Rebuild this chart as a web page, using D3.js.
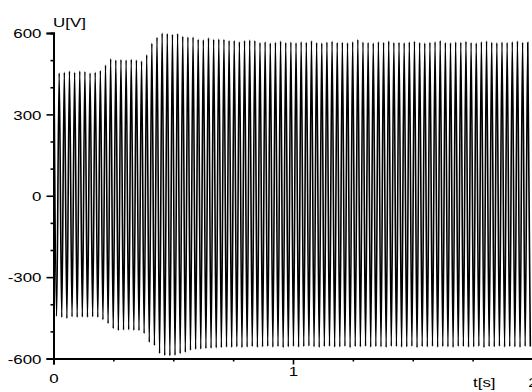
<!DOCTYPE html>
<html>
<head>
<meta charset="utf-8">
<script src="https://cdn.jsdelivr.net/npm/d3@7"></script>
<style>
  html, body { margin: 0; padding: 0; background: #fff; }
  svg { display: block; }
  text { font-family: "Liberation Sans", Arial, sans-serif; fill: #000; }
</style>
</head>
<body>
<svg id="chart" width="532" height="392"></svg>
<script>
// Generator terminal voltage: one positive and one negative peak per cycle (V)
const cyclePeriod = 0.0215; // s

const positivePeaks = [
  460, 452, 455, 460, 455, 460, 458, 452, 455, 462,
  482, 505, 500, 502, 500, 503, 500, 497,
  520, 562, 584, 600, 598, 595, 598, 588, 585, 585, 577, 575,
  582, 577, 578, 577, 572, 572, 568, 572, 574, 572,
  565, 568, 563, 566, 570, 565, 567, 564, 568, 566,
  571, 565, 563, 567, 569, 565, 566, 564, 568, 576,
  567, 565, 563, 568, 566, 570, 565, 566, 564, 567,
  569, 565, 563, 566, 568, 572, 565, 564, 567, 566,
  569, 565, 563, 568, 570, 566, 564, 567, 565, 568,
  570, 566, 565
];

const negativePeaks = [
  -445, -448, -452, -446, -448, -447, -448, -446, -448, -457,
  -471, -490, -497, -495, -494, -496, -497, -508,
  -540, -552, -582, -589, -590, -588, -582, -577, -570, -566, -565, -563,
  -562, -561, -560, -558, -559, -557, -560, -558, -556, -559,
  -557, -555, -558, -556, -560, -557, -555, -558, -556, -554,
  -557, -559, -556, -555, -558, -557, -555, -560, -556, -557,
  -555, -558, -556, -557, -559, -555, -556, -558, -557, -555,
  -560, -556, -557, -555, -558, -556, -557, -559, -555, -556,
  -558, -557, -555, -560, -556, -557, -555, -558, -556, -557,
  -559, -555, -556
];

const xTicks = [0, 1, 2];
const xMinorTicks = [0.25, 0.5, 0.75, 1.25, 1.5, 1.75];
const yTicks = [-600, -300, 0, 300, 600];
const yMinorTicks = [-500, -400, -200, -100, 100, 200, 400, 500];

const xLabel = "t[s]";
const yLabel = "U[V]";

// ---- layout ----
const svg = d3.select("#chart");
const plotLeft = 53.5, plotRight = 532, plotTop = 33, plotBottom = 358.5;

const x = d3.scaleLinear().domain([0, 2]).range([plotLeft, 532.5]);
const y = d3.scaleLinear().domain([-600, 600]).range([plotBottom, plotTop]);

// waveform points: peaks alternate within each cycle
const points = [];
positivePeaks.forEach((p, k) => {
  points.push({ t: (k + 0.1) * cyclePeriod, v: p });
  points.push({ t: (k + 0.6) * cyclePeriod, v: negativePeaks[k] });
});

svg.append("clipPath").attr("id", "plotClip")
  .append("rect").attr("x", plotLeft).attr("y", 0)
  .attr("width", plotRight - plotLeft).attr("height", 392);

const line = d3.line()
  .x(d => x(d.t))
  .y(d => y(d.v))
  .curve(d3.curveMonotoneX);

svg.append("path")
  .datum(points)
  .attr("clip-path", "url(#plotClip)")
  .attr("fill", "none")
  .attr("stroke", "#000")
  .attr("stroke-width", 1.6)
  .attr("d", line);

// ---- axes ----
const textScale = "scale(1.3,1)";
const plainNumber = d => String(d); // ASCII hyphen for negatives

// y axis
const yAxis = svg.append("g").attr("transform", `translate(${plotLeft},0)`);
yAxis.call(d3.axisLeft(y).tickValues(yMinorTicks).tickSize(3).tickFormat(""));
yAxis.append("g").call(d3.axisLeft(y).tickValues(yTicks).tickSize(7).tickFormat(plainNumber));
yAxis.selectAll(".domain").attr("stroke-width", 2);
yAxis.selectAll(".tick line").attr("stroke-width", 1.6);
yAxis.selectAll("text")
  .attr("font-size", 13)
  .attr("x", null)
  .attr("transform", `translate(-12,0) ${textScale}`)
  .attr("dy", "0.36em");

// x axis
const xAxisG = svg.append("g").attr("transform", `translate(0,${plotBottom})`);
xAxisG.call(d3.axisBottom(x).tickValues(xMinorTicks).tickSize(3).tickFormat(""));
xAxisG.append("g").call(d3.axisBottom(x).tickValues(xTicks).tickSize(6).tickFormat(plainNumber));
xAxisG.selectAll(".domain").attr("stroke-width", 2);
xAxisG.selectAll(".tick line").attr("stroke-width", 1.6);
const xLabelBase = { 0: 24.5, 1: 17.5, 2: 28 };
xAxisG.selectAll("text")
  .attr("font-size", 13)
  .attr("y", null)
  .attr("dy", null)
  .attr("transform", d => `translate(0,${xLabelBase[d]}) ${textScale}`);

// axis titles
svg.append("text")
  .attr("transform", `translate(53,27) ${textScale}`)
  .attr("font-size", 13)
  .text(yLabel);

svg.append("text")
  .attr("transform", `translate(473,387) ${textScale}`)
  .attr("font-size", 13)
  .text(xLabel);
</script>
</body>
</html>
